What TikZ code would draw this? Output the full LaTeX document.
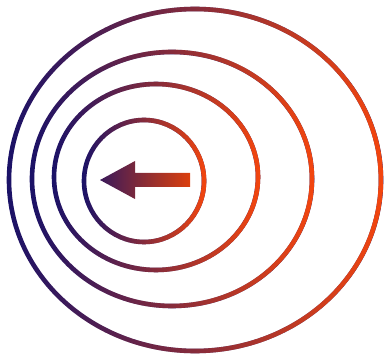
\documentclass[tikz,border=0pt]{standalone}
\usepackage{tikz}
\usetikzlibrary{fadings}
\definecolor{wblue}{HTML}{1A1268}
\definecolor{wred}{HTML}{F4460E}
\tikzfading[name=toright, left color=transparent!100, middle color=transparent!55,
            right color=transparent!0]
\tikzset{
  front/.style={line width=4.6pt, wblue},
  glow/.style ={line width=4.6pt, wred, path fading=toright},
  shaft/.style={left color=wblue!85!wred, right color=wred!90!black},
}
% one wave front: centre x, centre y, x radius, y radius
\newcommand\wavefront[4]{%
  \draw[front] (#1,#2) ellipse [x radius=#3, y radius=#4];
  \draw[glow]  (#1,#2) ellipse [x radius=#3, y radius=#4];}

\begin{document}
\begin{tikzpicture}[x=1pt, y=-1pt]
  \useasboundingbox (0,0) rectangle (385,355);
  % wave fronts, oldest first
  \wavefront{195}{180}{186}{171}
  \wavefront{172}{179}{140}{127}
  \wavefront{156}{177}{102}{93}
  \wavefront{144}{181}{60}{61}
  % source moving to the left
  \coordinate (tip) at (100,180);
  \shade[shaft] (tip) -- (135,161) -- (135,173) -- (190,173)
    -- (190,187) -- (135,187) -- (135,199) -- cycle;
\end{tikzpicture}
\end{document}
